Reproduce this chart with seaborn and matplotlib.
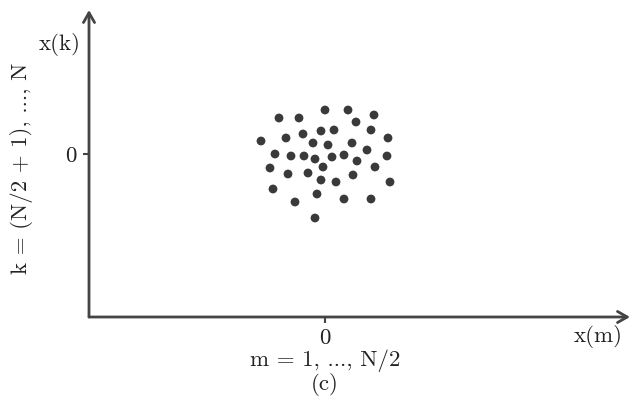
import seaborn as sns
import matplotlib.pyplot as plt
import pandas as pd

# scatter of x(m) against x(k), both centred on 0
xm = [0.00, 0.23, -0.46, -0.26, 0.49, 0.31, -0.04, 0.09, -0.22, 0.46,
      -0.64, -0.39, -0.12, 0.03, 0.27, 0.63, -0.50, -0.34, -0.21, -0.10,
      0.07, 0.19, 0.42, 0.62, 0.32, -0.55, -0.02, 0.50, -0.37, -0.17,
      0.28, -0.04, 0.11, 0.65, -0.52, -0.08, -0.30, 0.19, 0.46, -0.10]
xk = [0.44, 0.44, 0.36, 0.36, 0.39, 0.32, 0.23, 0.24, 0.20, 0.24,
      0.13, 0.16, 0.11, 0.09, 0.11, 0.16, 0.00, -0.02, -0.02, -0.05,
      -0.03, -0.01, 0.04, -0.02, -0.07, -0.14, -0.13, -0.13, -0.20, -0.19,
      -0.21, -0.26, -0.28, -0.28, -0.35, -0.40, -0.48, -0.45, -0.45, -0.64]
df = pd.DataFrame({"xm": xm, "xk": xk})

sns.set_style("white")
plt.rcParams["font.family"] = "serif"
plt.rcParams["font.serif"] = ["cmr10", "DejaVu Serif"]
plt.rcParams["axes.unicode_minus"] = False

fs = 16.5
col = "#444444"
fig = plt.figure(figsize=(6.32, 4.05), dpi=100)
ax = fig.add_axes([89/632, 1-317/405, 541/632, 307/405])
sns.scatterplot(data=df, x="xm", y="xk", color="#3a3a3a", s=40, edgecolor="none", ax=ax)
ax.set_xlim(-2.36, 3.05)
ax.set_ylim(-1.63, 1.44)
ax.set_xticks([0])
ax.set_yticks([0])
ax.set_xticklabels(["0"], fontsize=fs)
ax.set_yticklabels(["0"], fontsize=fs)
ax.tick_params(length=4, width=1.5, color=col, pad=5, labelcolor="#222222")
ax.tick_params(axis="x", bottom=True, pad=4)
ax.tick_params(axis="y", left=True)
ax.set_xlabel("")
ax.set_ylabel("")
for s in ax.spines.values():
    s.set_visible(False)

arrow = dict(arrowstyle="->,head_length=0.7,head_width=0.4", lw=2, color=col,
             shrinkA=0, shrinkB=0)
ax.annotate("", xy=(0, 1), xytext=(0, 0), xycoords="axes fraction", arrowprops=arrow)
ax.annotate("", xy=(1, 0), xytext=(0, 0), xycoords="axes fraction", arrowprops=arrow)

tc = "#222222"
fig.text(60/632, 1-45/405, "x(k)", fontsize=fs, ha="center", va="center", color=tc)
fig.text(22/632, 1-168/405, "k = (N/2 + 1), ..., N", fontsize=fs, rotation=90,
         ha="center", va="center", color=tc)
fig.text(598/632, 1-337/405, "x(m)", fontsize=fs, ha="center", va="center", color=tc)
fig.text(325/632, 1-361/405, "m = 1, ..., N/2", fontsize=fs, ha="center", va="center", color=tc)
fig.text(325/632, 1-384/405, "(c)", fontsize=fs, ha="center", va="center", color=tc)

fig.savefig("out.png", dpi=100)
